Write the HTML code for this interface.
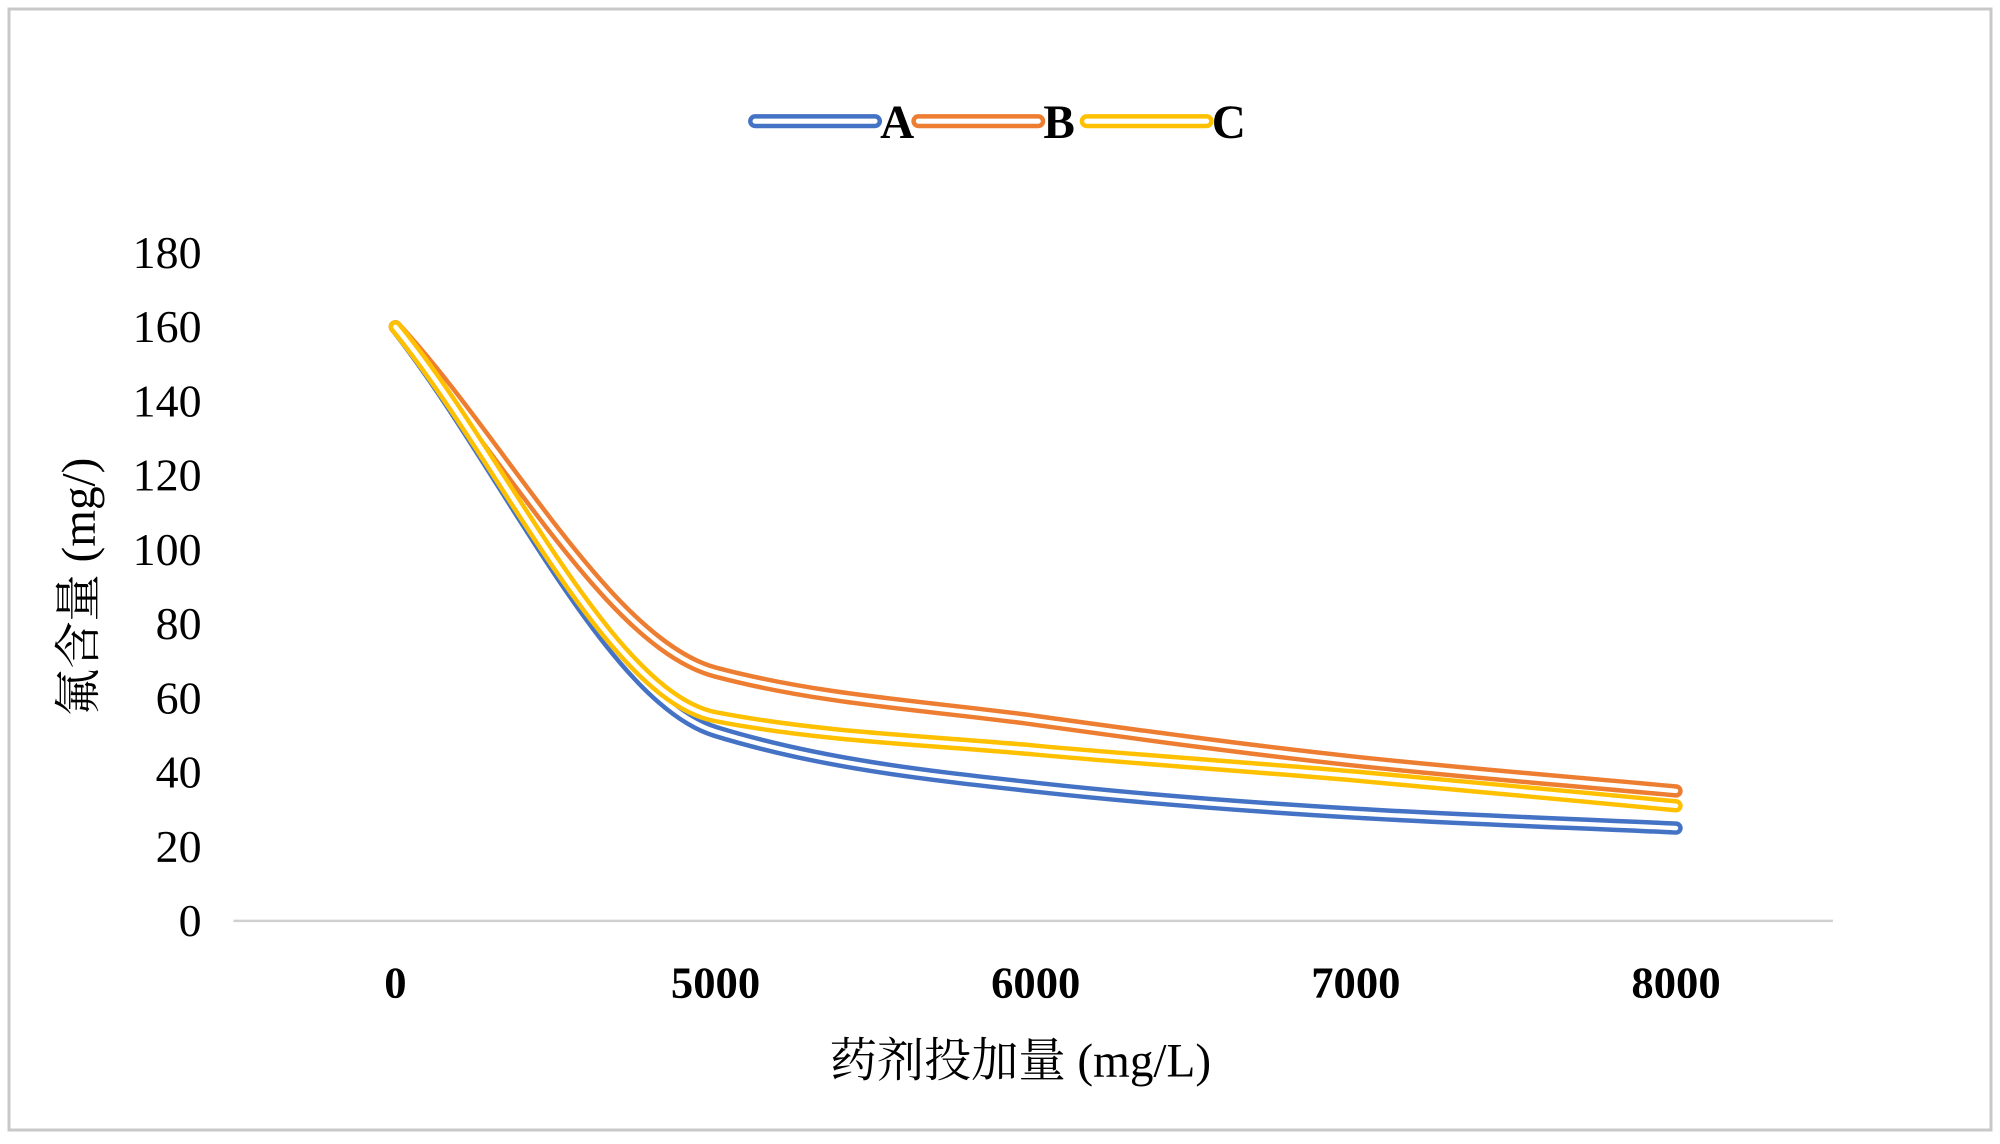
<!DOCTYPE html>
<html><head><meta charset="utf-8"><style>
body{margin:0;background:#fff}
svg text{font-family:"Liberation Serif","Noto Serif CJK SC",serif;fill:#000}
</style></head><body>
<svg id="chart" width="2000" height="1139" xmlns="http://www.w3.org/2000/svg">
<rect x="9" y="9" width="1982" height="1121" fill="#fff" stroke="#c8c8c8" stroke-width="3"/>
<g id="root" transform="scale(1.2755)">
<g id="legend"></g>
<g id="yticks"></g>
<g id="xticks"></g>
<line x1="183" y1="722" x2="1437" y2="722" stroke="#d0d0d0" stroke-width="2"/>
<g id="series"></g>
<text x="800" y="844" font-size="37" text-anchor="middle">药剂投加量 (mg/L)</text>
<text transform="translate(74,460) rotate(-90)" font-size="37" text-anchor="middle">氟含量 (mg/)</text>
</g>
</svg>
<script>
const categories=["0","5000","6000","7000","8000"];
const seriesA=[160,51,36,29,25];
const seriesB=[160,67,54,43,35];
const seriesC=[160,55,46,39,31];
const yTicks=[0,20,40,60,80,100,120,140,160,180];
const seriesNames=["A","B","C"];
const colors=["#4472c4","#ed7d31","#ffc000"];
const NS="http://www.w3.org/2000/svg";
const x0=310,dx=251;
function xs(i){return x0+i*dx;}
function ys(v){return 722-v*(524/180);}
function mk(t,a,p){const e=document.createElementNS(NS,t);for(const k in a)e.setAttribute(k,a[k]);(p||document.getElementById('root')).appendChild(e);return e;}
const yg=document.getElementById('yticks');
yTicks.forEach(v=>{const t=mk('text',{x:158,y:ys(v)+12,'font-size':36,'text-anchor':'end'},yg);t.textContent=v;

});
const xg=document.getElementById('xticks');
categories.forEach((c,i)=>{const t=mk('text',{x:xs(i),y:782,'font-size':35,'text-anchor':'middle','font-weight':'bold'},xg);t.textContent=c;

});
function path(vals){const p=vals.map((v,i)=>[xs(i),ys(v)]);const n=p.length;
const s=[];for(let i=0;i<n-1;i++)s.push((p[i+1][1]-p[i][1])/(p[i+1][0]-p[i][0]));
const m=[];for(let i=0;i<n;i++){if(i==0)m.push(s[0]);else if(i==n-1)m.push(s[n-2]);
else{const a=s[i-1],b=s[i];m.push(a*b<=0?0:2/(1/a+1/b));}}
let d=`M${p[0][0]},${p[0][1]}`;
for(let i=0;i<n-1;i++){const h=(p[i+1][0]-p[i][0])/3;
d+=` C${p[i][0]+h},${p[i][1]+m[i]*h} ${p[i+1][0]-h},${p[i+1][1]-m[i+1]*h} ${p[i+1][0]},${p[i+1][1]}`;}return d;}
const sg=document.getElementById('series');
[seriesA,seriesB,seriesC].forEach((s,k)=>{const g=mk('g',{},sg);


const d=path(s);mk('path',{d:d,fill:'none',stroke:colors[k],'stroke-width':10.5,'stroke-linecap':'round'},g);
mk('path',{d:d,fill:'none',stroke:'#fff','stroke-width':3.5,'stroke-linecap':'round'},g);});
const lg=document.getElementById('legend');
seriesNames.forEach((n,k)=>{const x=[592,720,852][k];const g=mk('g',{},lg);


mk('line',{x1:x,y1:95,x2:x+94,y2:95,stroke:colors[k],'stroke-width':11,'stroke-linecap':'round'},g);
mk('line',{x1:x,y1:95,x2:x+94,y2:95,stroke:'#fff','stroke-width':4,'stroke-linecap':'round'},g);
const t=mk('text',{x:x+98,y:108,'font-size':37,'font-weight':'bold'},g);t.textContent=n;});
</script>
</body></html>
